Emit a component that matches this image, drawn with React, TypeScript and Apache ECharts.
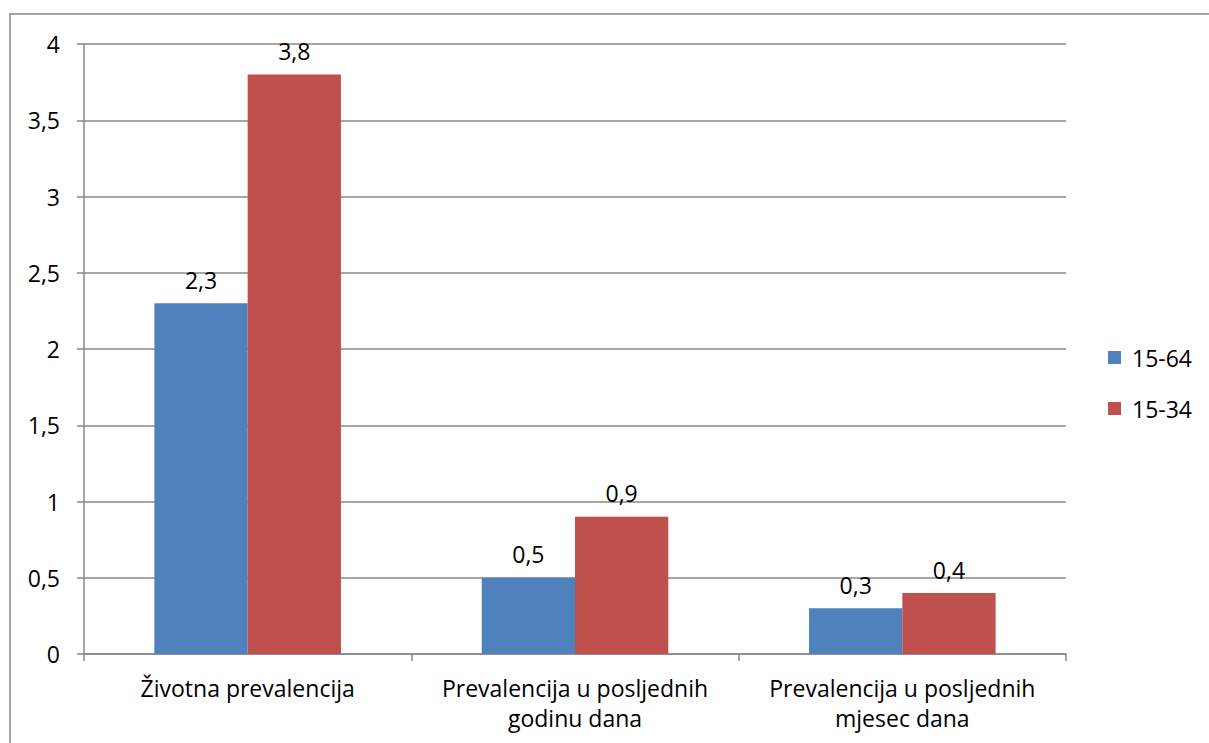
import React, { useEffect, useRef } from "react";
import * as echarts from "echarts";

const categories = ["Životna prevalencija", "Prevalencija u posljednih\ngodinu dana", "Prevalencija u posljednih\nmjesec dana"];
const seriesNames = ["15-64", "15-34"];
const values1564 = [2.3, 0.5, 0.3];
const values1534 = [3.8, 0.9, 0.4];
const colors = ["#4F81BD", "#C0504D"];

const FONT = "Open Sans";
const FS = 23;
const fmt = (v: number) => String(v).replace(".", ",");

export default function App() {
  const ref = useRef<HTMLDivElement>(null);
  useEffect(() => {
    if (!ref.current) return;
    const chart = echarts.init(ref.current, undefined, { renderer: "svg" });
    chart.setOption({
      animation: false,
      backgroundColor: "#ffffff",
      textStyle: { fontFamily: FONT, color: "#000" },
      graphic: [
        {
          type: "rect",
          shape: { x: 10, y: 14, width: 1220, height: 760 },
          style: { fill: "none", stroke: "#888888", lineWidth: 1.5 },
          silent: true,
        },
      ],
      grid: { left: 84, right: 143, top: 44, bottom: 89, containLabel: false },
      legend: {
        orient: "vertical",
        left: 1103,
        top: 341,
        itemWidth: 13,
        itemHeight: 13,
        itemGap: 28,
        icon: "rect",
        textStyle: { fontFamily: FONT, fontSize: FS, color: "#000", padding: [0, 0, 0, 6] },
        data: seriesNames,
      },
      xAxis: {
        type: "category",
        data: categories,
        axisLine: { show: true, lineStyle: { color: "#888888", width: 1.5 } },
        axisTick: { show: true, length: 7, lineStyle: { color: "#888888", width: 1.5 } },
        axisLabel: { fontFamily: FONT, fontSize: FS, color: "#000", margin: 19, lineHeight: 30, interval: 0 },
      },
      yAxis: {
        type: "value",
        min: 0,
        max: 4,
        interval: 0.5,
        axisLine: { show: true, lineStyle: { color: "#888888", width: 1.5 } },
        axisTick: { show: true, length: 7, lineStyle: { color: "#888888", width: 1.5 } },
        splitLine: { show: true, lineStyle: { color: "#888888", width: 1.5 } },
        axisLabel: { fontFamily: FONT, fontSize: FS, color: "#000", margin: 24, formatter: (v: number) => fmt(v) },
      },
      series: [
        {
          name: seriesNames[0],
          type: "bar",
          data: values1564,
          itemStyle: { color: colors[0] },
          barGap: "0%",
          barCategoryGap: "43%",
          label: { show: true, position: "top", distance: 12, fontFamily: FONT, fontSize: FS, color: "#000", formatter: (p: any) => fmt(p.value) },
        },
        {
          name: seriesNames[1],
          type: "bar",
          data: values1534,
          itemStyle: { color: colors[1] },
          barGap: "0%",
          barCategoryGap: "43%",
          label: { show: true, position: "top", distance: 12, fontFamily: FONT, fontSize: FS, color: "#000", formatter: (p: any) => fmt(p.value) },
        },
      ],
    });
    return () => chart.dispose();
  }, []);
  return <div ref={ref} style={{ position: "fixed", left: 0, top: 0, width: 1209, height: 743 }} />;
}
